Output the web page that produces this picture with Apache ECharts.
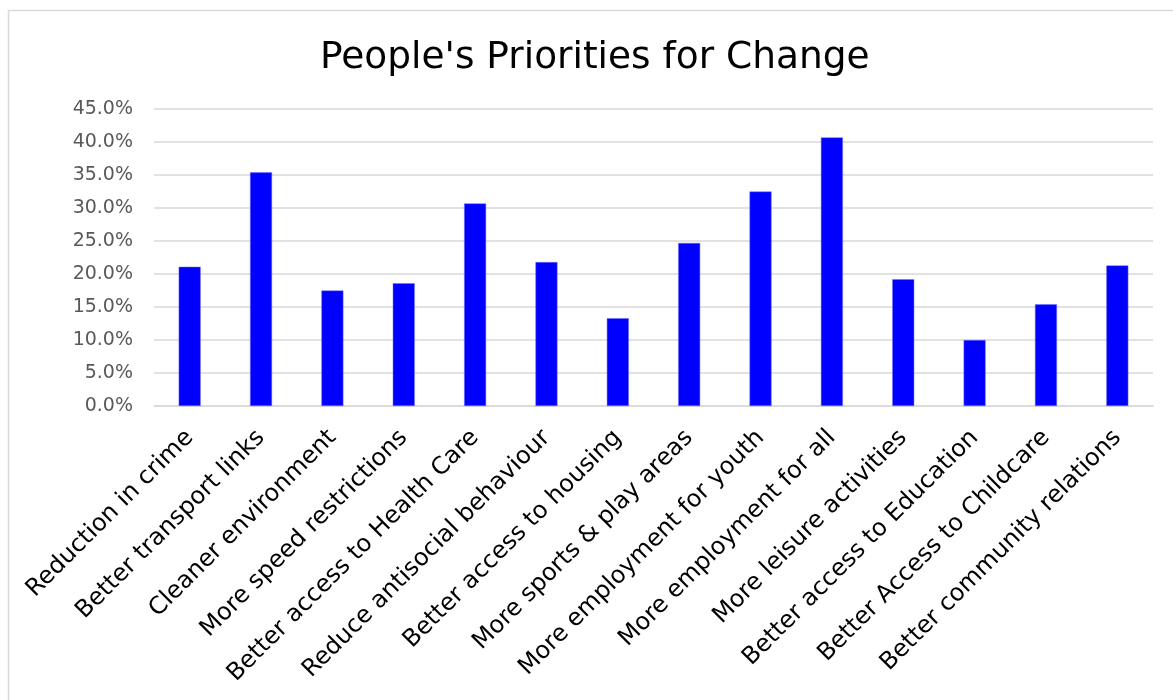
<!DOCTYPE html>
<html>
<head>
<meta charset="utf-8">
<script src="https://cdn.jsdelivr.net/npm/echarts@6/dist/echarts.min.js"></script>
<style>html,body{margin:0;padding:0;background:#fff;}#chart{width:1173px;height:700px;}</style>
</head>
<body>
<div id="chart"></div>
<script>
const categories = ["Reduction in crime","Better transport links","Cleaner environment","More speed restrictions","Better access to Health Care","Reduce antisocial behaviour","Better access to housing","More sports & play areas","More employment for youth","More employment for all","More leisure activities","Better access to Education","Better Access to Childcare","Better community relations"];
const values = [21.1, 35.4, 17.5, 18.6, 30.7, 21.8, 13.3, 24.7, 32.5, 40.7, 19.2, 10.0, 15.4, 21.3];
const titleText = "People's Priorities for Change";

const chart = echarts.init(document.getElementById('chart'), null, {renderer: 'canvas'});
chart.setOption({
  backgroundColor: '#ffffff',
  animation: false,
  graphic: [{
    type: 'rect', left: 6, top: 8,
    shape: {width: 1175, height: 700},
    style: {fill: 'none', stroke: '#d9d9d9', lineWidth: 1.5}
  }],
  title: {
    text: titleText, left: 315, top: 34,
    textStyle: {fontFamily: 'DejaVu Sans', fontSize: 37.5, fontWeight: 'normal', color: '#000000'}
  },
  grid: {left: 154, right: 20, top: 109, bottom: 294},
  xAxis: {
    type: 'category', data: categories,
    axisLine: {show: true, lineStyle: {color: '#d9d9d9', width: 1.5}},
    axisTick: {show: false},
    axisLabel: {rotate: 45, interval: 0, margin: 28, fontFamily: 'DejaVu Sans', fontSize: 24, color: '#000000'}
  },
  yAxis: {
    type: 'value', min: 0, max: 45, interval: 5,
    axisLine: {show: false}, axisTick: {show: false},
    splitLine: {lineStyle: {color: '#d9d9d9', width: 1.5}},
    axisLabel: {margin: 21, fontFamily: 'DejaVu Sans', fontSize: 19, color: '#595959',
      formatter: v => v.toFixed(1) + '%'}
  },
  series: [{
    type: 'bar', data: values, barWidth: 22,
    itemStyle: {color: '#0000ff', borderColor: '#7070ff', borderWidth: 0.5}
  }]
});
</script>
</body>
</html>
